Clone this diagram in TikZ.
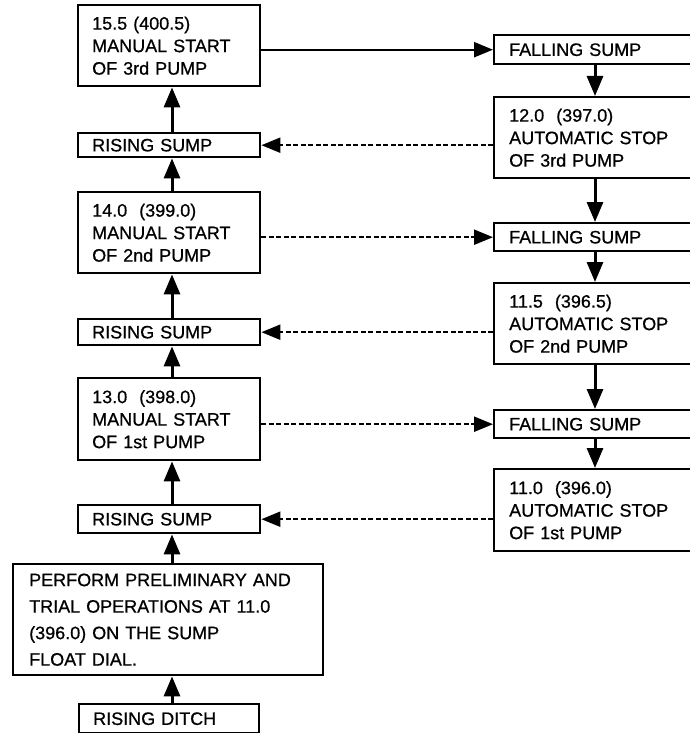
\documentclass[tikz,border=0pt]{standalone}
\usepackage{fontspec}
\setmainfont[FakeBold=0.7]{Liberation Sans}
\usetikzlibrary{arrows.meta}
\begin{document}
\begin{tikzpicture}[x=1pt,y=-1pt,
  box/.style={draw, line width=2.4pt, rectangle, align=left, inner xsep=14pt, inner ysep=0pt,
    font=\fontsize{18}{22.5}\selectfont, anchor=north west},
  lbox/.style={box, text width=154pt},
  rbox/.style={box, inner xsep=15pt, text width=200pt},
  arr/.style={line width=3pt, -{Triangle[length=20pt,width=16pt]}},
  harr/.style={line width=2.2pt, -{Triangle[length=19pt,width=15pt]}},
  dsh/.style={dash pattern=on 5pt off 2.5pt}]
\useasboundingbox (0,0) rectangle (690,733);
\clip (0,0) rectangle (690,733);
% left column
\node[lbox, minimum height=81pt] (A) at (77,4) {15.5 (400.5)\\MANUAL START\\OF 3rd PUMP};
\node[lbox, minimum height=24pt] (RS1) at (77,132) {RISING SUMP};
\node[lbox, minimum height=81pt] (B) at (77,191) {14.0~~(399.0)\\MANUAL START\\OF 2nd PUMP};
\node[lbox, minimum height=26pt] (RS2) at (77,318) {RISING SUMP};
\node[lbox, minimum height=82pt] (C) at (77,377) {13.0~~(398.0)\\MANUAL START\\OF 1st PUMP};
\node[lbox, minimum height=28pt] (RS3) at (77,504) {RISING SUMP};
\node[box, inner xsep=16pt, text width=278pt, minimum height=111pt,
  font=\fontsize{18}{26.5}\selectfont] (D) at (12,563)
  {PERFORM PRELIMINARY AND\\TRIAL OPERATIONS AT 11.0\\(396.0) ON THE SUMP\\FLOAT DIAL.};
\node[box, text width=152pt, minimum height=29pt] (RD) at (78,703) {RISING DITCH};
% right column
\node[rbox, minimum height=29pt] (FS1) at (493,34) {FALLING SUMP};
\node[rbox, minimum height=81pt] (AS3) at (493,96) {12.0~~(397.0)\\AUTOMATIC STOP\\OF 3rd PUMP};
\node[rbox, minimum height=28pt] (FS2) at (493,222) {FALLING SUMP};
\node[rbox, minimum height=81pt] (AS2) at (493,282) {11.5~~(396.5)\\AUTOMATIC STOP\\OF 2nd PUMP};
\node[rbox, minimum height=28pt] (FS3) at (493,409) {FALLING SUMP};
\node[rbox, minimum height=82pt] (AS1) at (493,468) {11.0~~(396.0)\\AUTOMATIC STOP\\OF 1st PUMP};
\coordinate (lx) at (172,0);
\coordinate (rx) at (595,0);
% left vertical arrows
\draw[arr] (RD.north -| lx) -- (D.south -| lx);
\draw[arr] (D.north -| lx) -- (RS3.south -| lx);
\draw[arr] (RS3.north -| lx) -- (C.south -| lx);
\draw[arr] (C.north -| lx) -- (RS2.south -| lx);
\draw[arr] (RS2.north -| lx) -- (B.south -| lx);
\draw[arr] (B.north -| lx) -- (RS1.south -| lx);
\draw[arr] (RS1.north -| lx) -- (A.south -| lx);
% right vertical arrows
\draw[arr] (FS1.south -| rx) -- (AS3.north -| rx);
\draw[arr] (AS3.south -| rx) -- (FS2.north -| rx);
\draw[arr] (FS2.south -| rx) -- (AS2.north -| rx);
\draw[arr] (AS2.south -| rx) -- (FS3.north -| rx);
\draw[arr] (FS3.south -| rx) -- (AS1.north -| rx);
% horizontal connectors
\draw[harr] (A.east |- FS1) -- (FS1.west);
\draw[harr, dsh] (AS3.west |- RS1) -- (RS1.east);
\draw[harr, dsh] (B.east |- FS2) -- (FS2.west);
\draw[harr, dsh] (AS2.west |- RS2) -- (RS2.east);
\draw[harr, dsh] (C.east |- FS3) -- (FS3.west);
\draw[harr, dsh] (AS1.west |- RS3) -- (RS3.east);
\end{tikzpicture}
\end{document}
